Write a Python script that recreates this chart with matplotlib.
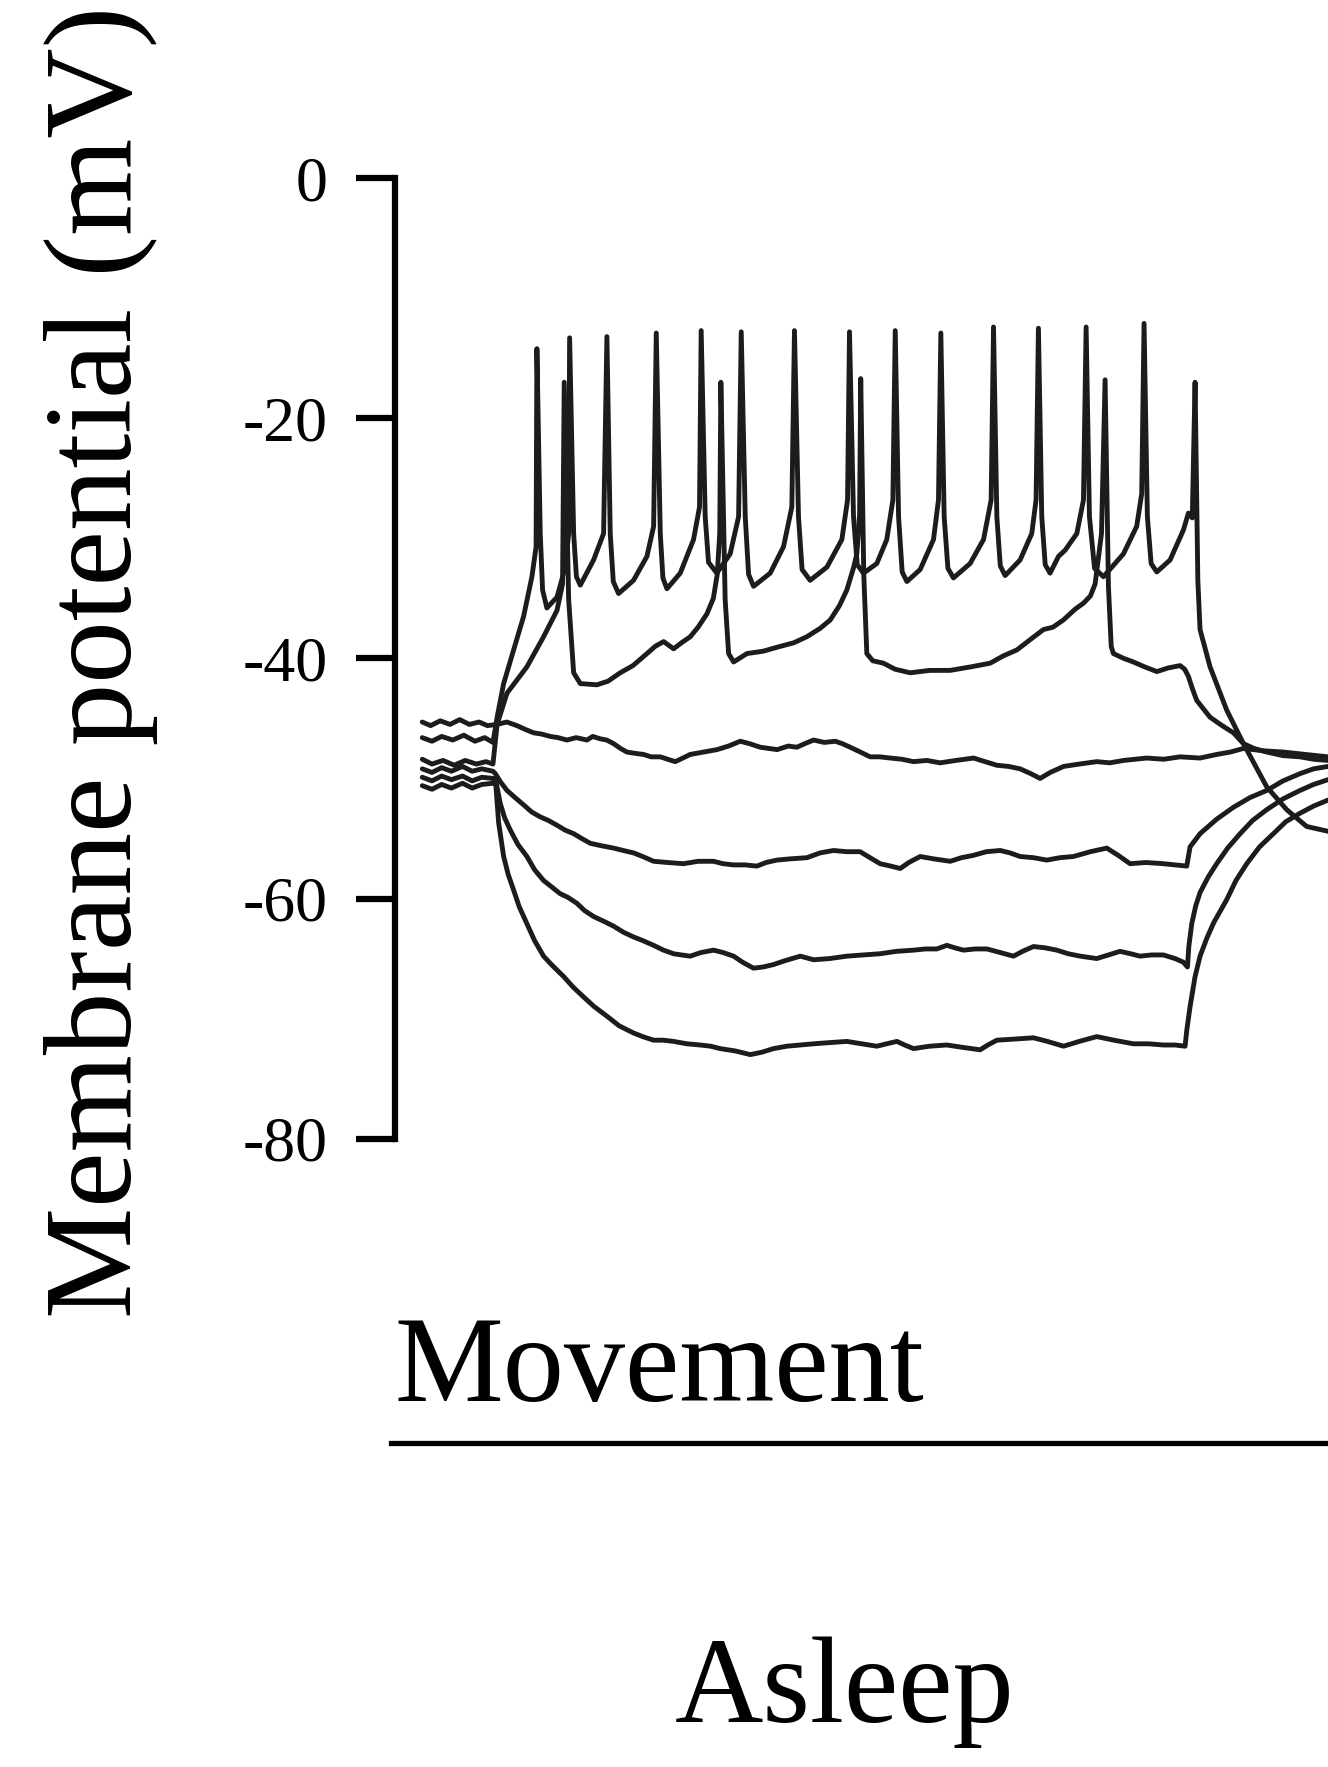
import numpy as np
import matplotlib
matplotlib.use("Agg")
import matplotlib.pyplot as plt
from matplotlib.lines import Line2D


# Membrane potential traces (time in ms from step onset, voltage in mV)

# top trace: regular firing during the step
fire_trace = [
    (-51, -46.6), (-44, -46.9), (-37, -46.5), (-29, -46.8), (-21, -46.4), (-13, -46.9), (-6, -46.6), (0, -47.0),
    (3, -44.9), (7.7, -42.1), (14.9, -39.3), (22.1, -36.5), (28.1, -33.2), (31.1, -30.7),
    (31.7, -14.2), (34.1, -29.6), (35.8, -34.3), (38.9, -35.8), (46.2, -34.9), (52.2, -32.4), (54.6, -29.6),
    (55.3, -13.3), (58.2, -29.6), (60.2, -33.2), (63.0, -33.9), (72.6, -31.8), (79.8, -29.6),
    (82.2, -13.2), (84.6, -29.6), (86.8, -33.6), (90.6, -34.6), (101.4, -33.5), (111.1, -31.5), (115.9, -29.0),
    (117.8, -12.9), (120.7, -29.6), (122.6, -33.3), (125.5, -34.2), (135.1, -32.9), (144.7, -30.1), (149.0, -27.4),
    (150.2, -12.7), (153.1, -28.2), (155.5, -32.0), (161.5, -32.9), (171.1, -31.3), (177.2, -28.2),
    (179.1, -12.8), (182.0, -28.2), (184.4, -33.0), (188.0, -34.0), (200.0, -32.9), (209.6, -30.7), (215.6, -27.4),
    (217.5, -12.7), (220.4, -28.2), (223.0, -32.6), (228.8, -33.5), (240.9, -32.4), (251.7, -30.1), (255.8, -26.8),
    (257.2, -12.8), (260.1, -28.2), (262.8, -32.2), (267.3, -32.9), (276.9, -32.1), (284.1, -30.1), (288.5, -26.8),
    (290.2, -12.7), (292.6, -28.2), (295.2, -32.8), (298.6, -33.6), (308.2, -32.6), (317.8, -30.1), (321.4, -26.8),
    (323.1, -12.9), (325.5, -28.2), (328.2, -32.5), (332.2, -33.3), (344.2, -32.1), (353.9, -30.1), (359.4, -26.8),
    (361.1, -12.4), (363.5, -28.2), (366.0, -32.3), (369.5, -33.1), (380.3, -31.8), (388.7, -29.6), (391.8, -26.8),
    (393.5, -12.5), (395.9, -28.2), (398.4, -32.2), (401.9, -32.9), (408.0, -31.5), (412.7, -31.0), (421.2, -29.6),
    (426.0, -26.8),
    (427.9, -12.4), (430.3, -28.2), (434.0, -32.5), (440.4, -33.2), (454.8, -31.3), (464.4, -29.0), (468.0, -26.3),
    (469.7, -12.1), (472.1, -28.2), (474.8, -32.1), (478.9, -32.8), (488.5, -31.8), (498.1, -29.3), (501.7, -27.9),
    (504.5, -28.3),
    (506.5, -17.0), (508.5, -33.5), (510.1, -37.6), (517.3, -40.7), (529.3, -44.3), (541.4, -47.1),
    (558.2, -50.7), (572.6, -52.6), (587.0, -54.0), (602.4, -54.4),
]

# second trace: sparse spikes with deep after-hyperpolarization
sparse_trace = [
    (-51, -48.4), (-44, -48.8), (-36, -48.5), (-28, -48.9), (-20, -48.5), (-12, -48.8), (-5, -48.6), (0, -48.8),
    (3, -45.5), (10.1, -42.9), (24.5, -40.7), (36.5, -38.2), (46.2, -36.0), (50.2, -33.8),
    (51.4, -17.0), (54.6, -35.1), (58.2, -41.2), (63.0, -42.1), (75.0, -42.2), (83, -41.9), (91.8, -41.2),
    (101, -40.6), (111.1, -39.6), (117, -39.0), (123.1, -38.6), (130.3, -39.2), (136, -38.7), (142.3, -38.2),
    (148, -37.4), (154.3, -36.3), (159, -35.0), (161.8, -33.0), (163.6, -29.6),
    (164.4, -17.0), (167.5, -35.1), (170.0, -39.6), (173.6, -40.3), (183.2, -39.6), (195, -39.4), (207.2, -39.0),
    (217, -38.7), (226.4, -38.2), (236, -37.5), (243.3, -36.8), (250, -35.6), (255.3, -34.3), (260, -32.5),
    (262.5, -31.3), (264.5, -28.0),
    (265.3, -16.7), (267.5, -33.0), (269.7, -39.6), (274, -40.2), (281.7, -40.4), (290, -40.9), (301.0, -41.2),
    (315, -41.0), (329.8, -41.0), (345, -40.7), (358.7, -40.4), (368, -39.8), (377.9, -39.3), (388, -38.4),
    (397.1, -37.6), (404, -37.4), (411.5, -36.8), (420, -35.9), (426.0, -35.4), (431, -34.8), (434.4, -33.8),
    (439.0, -29.6),
    (441.6, -16.8), (444, -34.0), (446, -39.0), (447.6, -39.6), (455, -40.0), (462.0, -40.3), (470, -40.7),
    (478.9, -41.1), (487, -40.8), (495.7, -40.6), (499, -40.9), (501.7, -41.5), (504.5, -42.5), (507.7, -43.5),
    (517.3, -44.9), (526, -45.6), (534.2, -46.2), (541.4, -47.1), (549, -47.5), (558.2, -47.8), (570, -48.1),
    (582.2, -48.2), (592, -48.4), (602.4, -48.5),
]

# third trace: stays near rest
flat_trace = [
    (-51, -45.3), (-45, -45.6), (-38, -45.2), (-31, -45.5), (-24, -45.1), (-17, -45.5), (-10, -45.3), (-4, -45.6),
    (2.9, -45.5), (10, -45.3), (17.3, -45.6), (23, -45.9), (29.3, -46.2), (35, -46.3), (41.3, -46.5), (47, -46.6),
    (53.4, -46.8), (60, -46.6), (67.8, -46.8), (72, -46.5), (77.4, -46.7), (82, -46.8), (87.0, -47.1), (92, -47.5),
    (96.6, -47.8), (102, -47.9), (108.6, -48.0), (114, -48.2), (120.7, -48.2), (126, -48.4), (131.5, -48.6),
    (137, -48.3), (142.3, -48.0), (152, -47.8), (161.5, -47.6), (170, -47.3), (178.4, -46.9), (185, -47.1),
    (192.8, -47.4), (199, -47.5), (205, -47.6), (213, -47.3), (219.2, -47.4), (225, -47.1), (231.3, -46.8),
    (239, -47.0), (246.9, -46.9), (252, -47.1), (257.7, -47.4), (265, -47.8), (272.1, -48.2), (279, -48.2),
    (286.6, -48.3), (295, -48.4), (303.4, -48.6), (313, -48.5), (322.6, -48.7), (334, -48.5), (346.7, -48.3),
    (355, -48.6), (363.5, -48.9), (372, -49.0), (380.3, -49.2), (388, -49.6), (394.7, -50.0), (402, -49.5),
    (411.6, -49.0), (423, -48.8), (435.6, -48.6), (445, -48.7), (455, -48.5), (471.6, -48.3), (484, -48.4),
    (495.7, -48.2), (510.1, -48.3), (522.1, -48.0), (532, -47.8), (541.4, -47.5), (556, -47.7), (570.2, -47.8),
    (586, -48.0), (602.4, -48.2),
]

# hyperpolarized traces
hyper_57 = [
    (-51, -49.2), (-44, -49.5), (-37, -49.1), (-30, -49.4), (-22, -49.0), (-15, -49.4), (-8, -49.2), (0, -49.4),
    (1.7, -49.6), (5.5, -50.3), (10.1, -51.0), (16, -51.6), (22.1, -52.2), (28, -52.8), (34.1, -53.2), (40, -53.5),
    (46.2, -53.9), (52, -54.3), (58.2, -54.6), (64, -55.0), (70.2, -55.4), (78, -55.6), (87.0, -55.8), (94, -56.0),
    (101.4, -56.2), (108, -56.5), (115.9, -56.9), (126, -57.0), (137.5, -57.1), (148, -56.9), (159.1, -56.9),
    (166, -57.1), (173.6, -57.2), (182, -57.2), (190.4, -57.3), (197, -57.0), (204.8, -56.8), (214, -56.7),
    (226.5, -56.6), (236, -56.2), (245.7, -56.0), (255, -56.1), (264.9, -56.1), (272, -56.6), (279.3, -57.1),
    (287, -57.3), (293.8, -57.5), (300, -57.0), (308.2, -56.5), (318, -56.7), (329.8, -56.9), (338, -56.6),
    (346.7, -56.4), (356, -56.1), (365.9, -56.0), (373, -56.2), (380.3, -56.5), (390, -56.6), (399.5, -56.8),
    (409, -56.6), (418.8, -56.5), (431, -56.1), (442.8, -55.8), (451, -56.4), (459.6, -57.1), (471, -57.0),
    (483.7, -57.1), (492, -57.2), (500.5, -57.3),
    (502.9, -55.7), (510.1, -54.6), (522, -53.4), (534.2, -52.4), (546, -51.6), (558.2, -51.0), (570, -50.2),
    (582.2, -49.6), (592, -49.2), (602.4, -49.0),
]

hyper_65 = [
    (-51, -49.9), (-44, -50.2), (-37, -49.8), (-30, -50.1), (-22, -49.8), (-15, -50.2), (-8, -49.9), (0, -50.0),
    (1.7, -50.0), (5.3, -52.1), (8.5, -53.3), (12.5, -54.3), (18, -55.5), (24.5, -56.5), (30, -57.6), (36.5, -58.5),
    (42, -59.0), (48.5, -59.6), (54, -59.9), (60.6, -60.4), (66, -61.0), (72.6, -61.5), (80, -61.9), (87.0, -62.3),
    (94, -62.8), (101.4, -63.2), (108, -63.5), (115.9, -63.9), (123, -64.3), (130.3, -64.6), (136, -64.7),
    (142.3, -64.8), (150, -64.5), (159.1, -64.3), (166, -64.5), (173.6, -64.8), (180, -65.3), (187.9, -65.8),
    (195, -65.7), (202.4, -65.5), (210, -65.2), (221.7, -64.8), (231.3, -65.1), (243, -65.0), (255.3, -64.8),
    (267, -64.7), (279.3, -64.6), (291, -64.4), (303.4, -64.3), (312, -64.2), (320.2, -64.2), (327.4, -63.9),
    (333, -64.1), (339.4, -64.3), (348, -64.2), (356.3, -64.2), (366, -64.5), (375.5, -64.8), (382, -64.4),
    (389.9, -64.0), (398, -64.1), (406.8, -64.3), (415, -64.6), (423.6, -64.8), (435.6, -65.0), (444, -64.7),
    (452.4, -64.4), (460, -64.6), (466.8, -64.8), (475, -64.7), (483.7, -64.7), (492, -65.0), (498, -65.3),
    (501.0, -65.7),
    (502.0, -64.0), (504.1, -62.1), (507, -60.6), (510.1, -59.5), (516, -58.2), (522.1, -57.1), (530, -55.8),
    (539, -54.6), (548, -53.5), (558.2, -52.6), (570, -51.7), (582.2, -51.0), (592, -50.5), (602.4, -50.1),
]

hyper_73 = [
    (-51, -50.6), (-44, -50.9), (-37, -50.5), (-30, -50.8), (-22, -50.4), (-15, -50.8), (-8, -50.5), (0, -50.4),
    (1.7, -50.0), (4.1, -53.7), (7.7, -56.5), (11, -58.0), (14.9, -59.3), (19, -60.7), (24.5, -62.1), (30, -63.5),
    (36.5, -64.8), (43, -65.6), (51.0, -66.5), (58, -67.4), (65.4, -68.2), (73, -69.0), (82.2, -69.8), (91, -70.6),
    (101.4, -71.2), (108, -71.5), (115.9, -71.8), (123, -71.8), (130.3, -71.9), (140, -72.1), (149.5, -72.2),
    (157, -72.3), (163.9, -72.5), (175, -72.7), (185.6, -73.0), (194, -72.8), (202.4, -72.5), (212, -72.3),
    (221.6, -72.2), (231.3, -72.1), (243, -72.0), (255.3, -71.9), (266, -72.1), (276.9, -72.3), (284, -72.1),
    (291.4, -71.9), (297, -72.2), (303.4, -72.5), (315, -72.3), (327.4, -72.2), (339, -72.4), (351.5, -72.6),
    (357, -72.2), (363.5, -71.8), (377, -71.7), (389.9, -71.6), (400, -71.9), (411.6, -72.3), (423, -71.9),
    (435.6, -71.5), (448, -71.8), (462.0, -72.1), (473, -72.1), (483.7, -72.2), (492, -72.2), (499.3, -72.3),
    (500.5, -71.0), (502.9, -69.0), (506.5, -66.5), (510.1, -64.8), (515, -63.3), (520, -62.0), (529.3, -60.1),
    (536, -58.5), (543.8, -57.1), (553, -55.7), (563, -54.6), (572, -53.6), (582.2, -52.9), (592, -52.3),
    (602.4, -51.8),
]

y_ticks = [-80, -60, -40, -20, 0]
y_tick_labels = ["-80", "-60", "-40", "-20", "0"]

trace_color = "#1c1c1c"

plt.rcParams["font.family"] = ["Liberation Serif", "DejaVu Serif"]

fig = plt.figure(figsize=(13.28, 17.67), dpi=100)
ax = fig.add_axes([0.2971, 0.3556, 0.7029, 0.5436])

for trace in [hyper_73, hyper_65, hyper_57, flat_trace, sparse_trace, fire_trace]:
    arr = np.array(trace)
    ax.plot(arr[:, 0], arr[:, 1], color=trace_color, lw=3.5,
            solid_joinstyle="round", solid_capstyle="round")

ax.set_xlim(-71, 602.4)
ax.set_ylim(-80, 0)

for side in ["top", "right", "bottom"]:
    ax.spines[side].set_visible(False)
ax.spines["left"].set_linewidth(4.5)
ax.spines["left"].set_bounds(-80, 0)
ax.spines["left"].set_capstyle("projecting")

ax.set_xticks([])
ax.set_yticks(y_ticks)
ax.set_yticklabels(y_tick_labels)
ax.tick_params(axis="y", length=28, width=4.5, pad=20, labelsize=46, direction="out")

# axis label and condition labels
fig.text(0.076, 0.6254, "Membrane potential (mV)", rotation=90,
         ha="center", va="center", fontsize=90)

fig.text(0.2974, 0.2071, "Movement", ha="left", va="baseline", fontsize=88)
fig.add_artist(Line2D([0.2944, 1.0], [0.1834, 0.1834], transform=fig.transFigure,
                      color="black", lw=3.8))

fig.text(0.636, 0.0255, "Asleep", ha="center", va="baseline", fontsize=88)

fig.savefig("out.png", dpi=100)
plt.close(fig)
